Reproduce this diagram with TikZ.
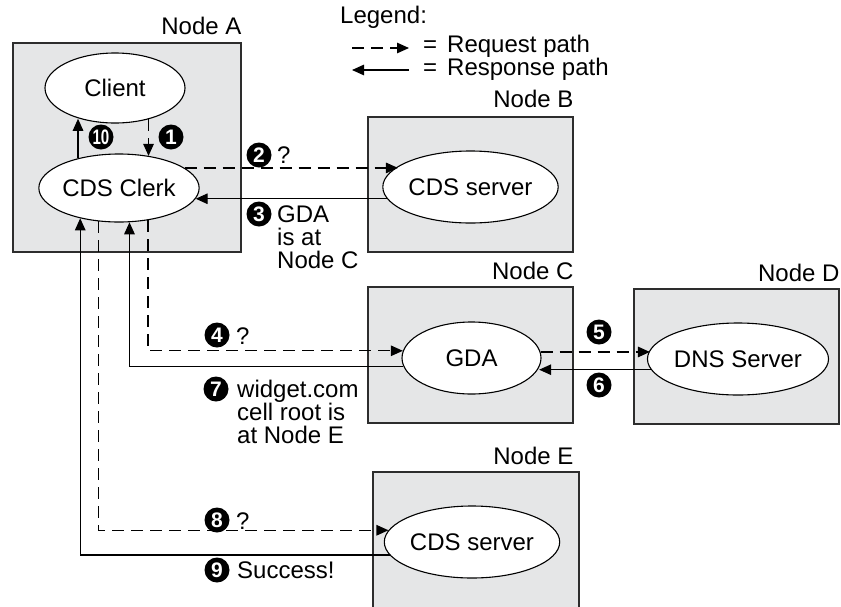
\documentclass[tikz,border=0pt]{standalone}
\usepackage{fontspec}
\usepackage{graphicx}
\setmainfont{Liberation Sans}
\usetikzlibrary{shapes.geometric,arrows.meta}
\definecolor{boxfill}{RGB}{229,230,231}
\definecolor{boxline}{RGB}{45,45,45}
\tikzset{
  txt/.style={font=\fontsize{24}{23}\selectfont, inner sep=0pt},
  nodebox/.style={draw=boxline, fill=boxfill, line width=1.3pt, inner sep=0pt},
  proc/.style={ellipse, draw=black, fill=white, line width=1.1pt, inner sep=0pt, txt},
  boxlbl/.style={txt, anchor=base east},
  num/.style={circle, fill=black, text=white, minimum size=25pt, inner sep=0pt,
              font=\fontsize{21}{21}\selectfont\bfseries},
  tip/.style={-{Triangle[length=12pt,width=10.5pt]}},
  req/.style={tip, line width=1.25pt, dash pattern=on 12pt off 7pt},
  resp/.style={tip, line width=1.25pt},
}
\begin{document}
\begin{tikzpicture}[x=1pt,y=-1pt]
\useasboundingbox (0,0) rectangle (841,606);
\clip (0,0) rectangle (841,606);

% boxes
\node[nodebox, minimum width=228pt, minimum height=209pt] (boxA) at (127,147.5) {};
\node[nodebox, minimum width=205pt, minimum height=135pt] (boxB) at (470.5,184.5) {};
\node[nodebox, minimum width=205pt, minimum height=136pt] (boxC) at (470.5,355) {};
\node[nodebox, minimum width=205pt, minimum height=135pt] (boxD) at (736.5,356.5) {};
\node[nodebox, minimum width=206pt, minimum height=170pt] (boxE) at (476,557) {};

\node[boxlbl] (lblA) at ([yshift=8pt]boxA.north east) {Node A};
\node[boxlbl] (lblB) at ([yshift=9pt]boxB.north east) {Node B};
\node[boxlbl] (lblC) at ([yshift=7pt]boxC.north east) {Node C};
\node[boxlbl] (lblD) at ([yshift=7pt]boxD.north east) {Node D};
\node[boxlbl] (lblE) at ([yshift=7pt,xshift=-6pt]boxE.north east) {Node E};

% processes
\node[proc, minimum width=140pt, minimum height=70pt] (client) at (115,88) {Client};
\node[proc, minimum width=140pt, minimum height=68pt] (clerk) at (119,188) {CDS Clerk};
\node[proc, minimum width=139pt, minimum height=72pt] (srvB) at (470.5,187) {CDS server};
\node[proc, minimum width=139pt, minimum height=72pt] (gda) at (471.5,358) {GDA};
\node[proc, minimum width=140pt, minimum height=72pt] (dns) at (738,359) {DNS Server};
\node[proc, minimum width=132pt, minimum height=72pt] (srvE) at (472,542) {CDS server};

% connectors
\draw[req]  (client.-43) -- (client.-43 |- clerk.47);
\draw[resp] (clerk.144) -- (clerk.144 |- client.-139);
\draw[req]  (clerk.17) -- (srvB.164.5 |- clerk.17);
\draw[resp] (srvB.188.5) -- (clerk.-8.5 |- srvB.188.5);
\draw[req]  (clerk.-48) |- (gda.174);
\draw[resp] (gda.187.6) -| (clerk.-73.4);
\draw[req]  (clerk.238.5) |- (srvE.172.9);
\draw[resp] (srvE.189.9) -| (clerk.218);
\draw[req]  (gda.5) -- (dns.174.2 |- gda.5);
\draw[resp] (dns.187.6) -- (gda.-8.5 |- dns.187.6);

% step numbers and messages
\node[num] (n10) at (101,137) {\scalebox{0.72}[1]{10}};
\node[num] (n1) at (171,137) {1};
\node[num] (n2) at (259,155) {2};
\node[txt, anchor=base west] (q2) at (277,163) {?};
\node[num] (n3) at (259,214) {3};
\node[txt, anchor=base west] (m3a) at (277,222) {GDA};
\node[txt, anchor=base west] (m3b) at (277,245) {is at};
\node[txt, anchor=base west] (m3c) at (277,268) {Node C};
\node[num] (n4) at (217,335) {4};
\node[txt, anchor=base west] (q4) at (236,344) {?};
\node[num] (n7) at (216,389) {7};
\node[txt, anchor=base west] (m7a) at (237,397) {widget.com};
\node[txt, anchor=base west] (m7b) at (237,420) {cell root is};
\node[txt, anchor=base west] (m7c) at (237,443) {at Node E};
\node[num] (n5) at (599,332) {5};
\node[num] (n6) at (599,385) {6};
\node[num] (n8) at (217,520) {8};
\node[txt, anchor=base west] (q8) at (236,529) {?};
\node[num] (n9) at (217,570) {9};
\node[txt, anchor=base west] (m9) at (237,578) {Success!};

% legend
\node[txt, anchor=base west] (leg) at (340,23) {Legend:};
\coordinate (lg1a) at (352,48);
\coordinate (lg1b) at (409,48);
\coordinate (lg2a) at (409,70);
\coordinate (lg2b) at (352,70);
\draw[req] (lg1a) -- (lg1b);
\draw[resp] (lg2a) -- (lg2b);
\node[txt, anchor=base west] (legreq) at (423,52) {=\hspace{10pt}Request path};
\node[txt, anchor=base west] (legresp) at (423,75) {=\hspace{10pt}Response path};
\end{tikzpicture}
\end{document}
